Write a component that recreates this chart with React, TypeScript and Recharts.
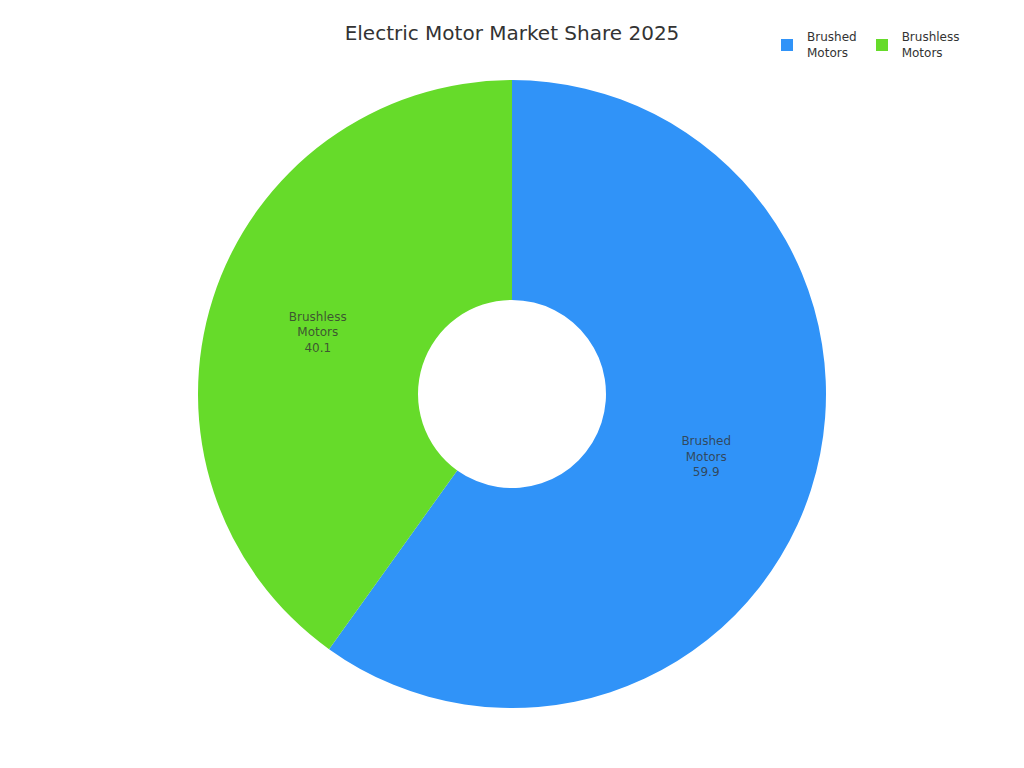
import React from "react";
import { PieChart, Pie, Cell, Legend } from "recharts";

const names = ["Brushed Motors", "Brushless Motors"];
const shares = [59.9, 40.1];
const colors = ["#3093f8", "#66db2a"];

const data = names.map((name, i) => ({ name, value: shares[i] }));

const RADIAN = Math.PI / 180;

function SliceLabel(props: any) {
    const { cx, cy, midAngle, innerRadius, outerRadius, name, value } = props;
    const r = (innerRadius + outerRadius) / 2;
    const x = cx + r * Math.cos(-midAngle * RADIAN);
    const y = cy + r * Math.sin(-midAngle * RADIAN);
    const words = String(name).split(" ");
    return (
        <text
            x={x}
            y={y}
            textAnchor="middle"
            fill="#333"
            fillOpacity={0.8}
            fontSize={12}
            fontFamily="DejaVu Sans, sans-serif"
        >
            <tspan x={x} dy={-11}>{words[0]}</tspan>
            <tspan x={x} dy={15.5}>{words[1]}</tspan>
            <tspan x={x} dy={15.5}>{value}</tspan>
        </text>
    );
}

function LegendBox({ payload }: any) {
    return (
        <div style={{ display: "flex", fontFamily: "DejaVu Sans, sans-serif", fontSize: 12, color: "#333" }}>
            {(payload || []).map((p: any, i: number) => {
                const words = String(p.value).split(" ");
                return (
                    <div key={i} style={{ display: "flex", alignItems: "center", marginRight: 19 }}>
                        <div style={{ width: 12, height: 12, background: p.color, marginRight: 14 }} />
                        <div style={{ lineHeight: "16px" }}>
                            {words[0]}
                            <br />
                            {words[1]}
                        </div>
                    </div>
                );
            })}
        </div>
    );
}

export default function App() {
    return (
        <div style={{ position: "absolute", left: 0, top: 0, width: 1024, height: 768, background: "#fff" }}>
            <div
                style={{
                    position: "absolute",
                    top: 21,
                    width: 1024,
                    textAlign: "center",
                    fontFamily: "DejaVu Sans, sans-serif",
                    fontSize: 20,
                    color: "#333",
                }}
            >
                Electric Motor Market Share 2025
            </div>
            <PieChart width={1024} height={768} margin={{ top: 0, right: 0, bottom: 0, left: 0 }}>
                <Pie
                    data={data}
                    dataKey="value"
                    nameKey="name"
                    cx={512}
                    cy={394}
                    innerRadius={94}
                    outerRadius={314}
                    startAngle={90}
                    endAngle={-270}
                    stroke="none"
                    label={SliceLabel}
                    labelLine={false}
                    isAnimationActive={false}
                >
                    {data.map((entry, i) => (
                        <Cell key={`cell-${i}`} fill={colors[i]} />
                    ))}
                </Pie>
                <Legend
                    content={<LegendBox />}
                    wrapperStyle={{ position: "absolute", left: 781, top: 29, width: 240 }}
                />
            </PieChart>
        </div>
    );
}
